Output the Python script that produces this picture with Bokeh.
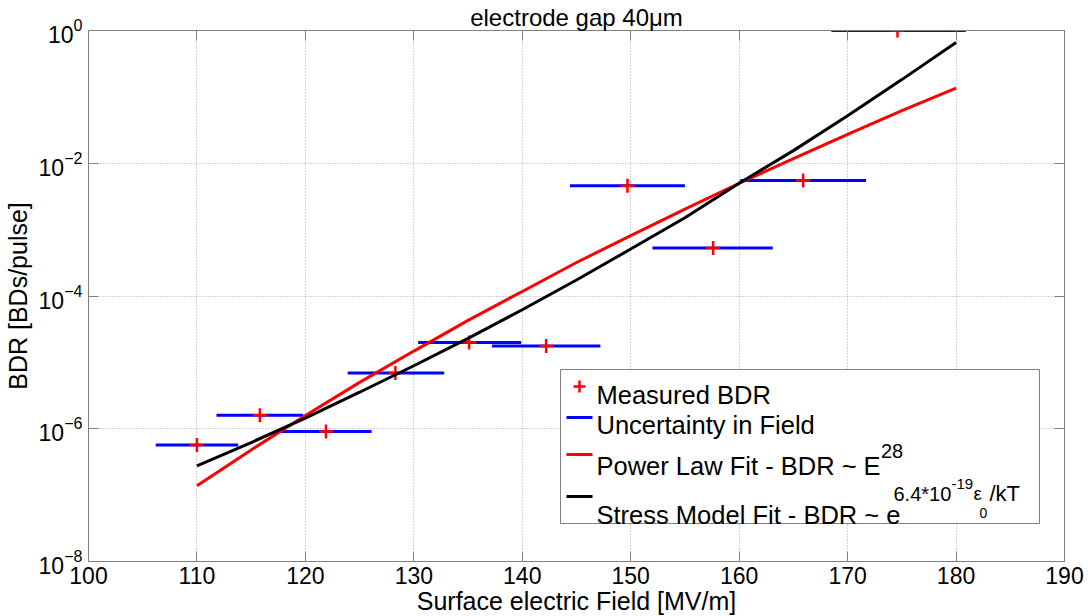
from bokeh.plotting import figure
from bokeh.models import Range1d, FixedTicker, LinearAxis, LogAxis, Label, CustomJSTickFormatter
from bokeh.embed import file_html
from bokeh.resources import INLINE

# ---------------- data ----------------
field = [110.0, 115.8, 121.9, 128.3, 135.1, 142.2, 149.7, 157.6, 165.9, 174.6]
bdr = [5.7e-7, 1.6e-6, 9.1e-7, 6.9e-6, 2.0e-5, 1.76e-5, 4.6e-3, 5.3e-4, 5.5e-3, 1.0]
field_lo = [106.2, 111.8, 117.6, 123.9, 130.4, 137.2, 144.4, 152.0, 160.1, 168.5]
field_hi = [113.8, 119.8, 126.1, 132.8, 139.9, 147.2, 155.0, 163.1, 171.7, 180.9]

fit_field = [110, 115, 120, 125, 130, 135, 140, 145, 150, 155, 160, 165, 170, 175, 180]
power_fit = [1.38e-7, 4.8e-7, 1.58e-6, 5.0e-6, 1.48e-5, 4.3e-5, 1.17e-4, 3.2e-4,
             8.1e-4, 2.04e-3, 5.0e-3, 1.17e-2, 2.72e-2, 6.2e-2, 1.35e-1]
stress_fit = [2.75e-7, 6.2e-7, 1.45e-6, 3.55e-6, 8.9e-6, 2.3e-5, 6.2e-5, 1.74e-4,
              5.1e-4, 1.51e-3, 5.0e-3, 1.55e-2, 5.2e-2, 1.82e-1, 6.6e-1]

x_ticks = [100, 110, 120, 130, 140, 150, 160, 170, 180, 190]
y_ticks = [1e-8, 1e-6, 1e-4, 1e-2, 1.0]

title_text = "electrode gap 40\u03bcm"
x_label = "Surface electric Field [MV/m]"
y_label = "BDR [BDs/pulse]"
legend_labels = ["Measured BDR", "Uncertainty in Field",
                 "Power Law Fit - BDR ~ E", "Stress Model Fit - BDR ~ e"]

# ---------------- layout ----------------
W, H = 1088, 616
LEFT, FW, TOP, FH = 88, 976, 30, 531
XMIN, XMAX = 100, 190
FONT = "Liberation Sans"
GRAY = "#808080"


def px2x(px):
    return XMIN + (px - LEFT) / FW * (XMAX - XMIN)


def px2y(py):
    return 10 ** (-(py - TOP) / FH * 8)


p = figure(x_range=Range1d(XMIN, XMAX), y_range=Range1d(1e-8, 1.0),
           y_axis_type="log", output_backend="svg", toolbar_location=None,
           frame_width=FW, frame_height=FH,
           min_border_left=LEFT, min_border_right=W - LEFT - FW,
           min_border_top=TOP, min_border_bottom=H - TOP - FH,
           background_fill_color="white", border_fill_color="white")

p.title.text = title_text
p.title.text_font = FONT
p.title.text_font_size = "24px"
p.title.text_font_style = "normal"
p.title.text_color = "black"
p.title.align = "center"
p.title.standoff = 0
p.title.offset = 0

p.outline_line_color = GRAY
p.outline_line_width = 1

# axes
p.xaxis.ticker = FixedTicker(ticks=x_ticks, minor_ticks=[])
p.yaxis.ticker = FixedTicker(ticks=y_ticks, minor_ticks=[])
for ax in (p.xaxis[0], p.yaxis[0]):
    ax.axis_line_color = GRAY
    ax.major_tick_line_color = GRAY
    ax.major_tick_in = 10
    ax.major_tick_out = 0
    ax.minor_tick_line_color = None
    ax.major_label_text_font = FONT
    ax.major_label_text_font_size = "23px"
    ax.major_label_text_color = "black"
    ax.axis_label_text_font = FONT
    ax.axis_label_text_font_size = "25px"
    ax.axis_label_text_font_style = "normal"
    ax.axis_label_text_color = "black"
p.xaxis.axis_label = x_label
p.yaxis.axis_label = y_label
p.xaxis.major_label_standoff = 5
p.xaxis.axis_label_standoff = 0
p.yaxis.major_label_standoff = 6
p.yaxis.axis_label_standoff = 4

top_ax = LinearAxis(ticker=FixedTicker(ticks=x_ticks, minor_ticks=[]),
                    formatter=CustomJSTickFormatter(code="return ''"))
right_ax = LogAxis(ticker=FixedTicker(ticks=y_ticks, minor_ticks=[]),
                   formatter=CustomJSTickFormatter(code="return ''"))
for ax in (top_ax, right_ax):
    ax.axis_line_color = GRAY
    ax.major_tick_line_color = GRAY
    ax.major_tick_in = 10
    ax.major_tick_out = 0
    ax.minor_tick_line_color = None
    ax.major_label_text_font_size = "1px"
    ax.major_label_standoff = 0
p.add_layout(top_ax, "above")
p.add_layout(right_ax, "right")

# grid
p.xgrid.ticker = FixedTicker(ticks=x_ticks)
p.ygrid.ticker = FixedTicker(ticks=y_ticks)
for g in (p.xgrid[0], p.ygrid[0]):
    g.grid_line_color = "#a8a8a8"
    g.grid_line_dash = "1 2"
    g.grid_line_width = 1

# data
p.segment(x0=field_lo, x1=field_hi, y0=bdr, y1=bdr, line_color="blue", line_width=3)
p.scatter(field, bdr, marker="cross", size=14, line_color="red", line_width=2.5)
p.line(fit_field, power_fit, line_color="red", line_width=3)
p.line(fit_field, stress_fit, line_color="black", line_width=3)

# legend box (manual, to allow superscripts)
p.quad(left=[px2x(560)], right=[px2x(1039)], top=[px2y(369)], bottom=[px2y(523)],
       fill_color="white", line_color=GRAY, line_width=1)
p.scatter([px2x(579)], [px2y(386)], marker="cross", size=12, line_color="red", line_width=2.5)
p.line([px2x(566), px2x(592)], [px2y(417)] * 2, line_color="blue", line_width=3)
p.line([px2x(566), px2x(592)], [px2y(454)] * 2, line_color="red", line_width=3)
p.line([px2x(566), px2x(592)], [px2y(496)] * 2, line_color="black", line_width=3)

baselines = [394, 424, 465, 514]
for txt, b in zip(legend_labels, baselines):
    p.add_layout(Label(x=px2x(596), y=px2y(b), text=txt, text_font=FONT,
                       text_font_size="25.5px", text_baseline="alphabetic",
                       text_align="left", text_color="black"))

sups = [("28", 880.5, 450, "20px"),
        ("6.4*10", 893, 493, "20px"),
        ("-19", 951, 483, "15px"),
        ("\u03b5", 973, 493, "19px"),
        ("0", 979, 512, "14px"),
        ("/kT", 989, 493, "22px")]
for txt, xp, yp, fs in sups:
    p.add_layout(Label(x=px2x(xp), y=px2y(yp), text=txt, text_font=FONT,
                       text_font_size=fs, text_baseline="alphabetic",
                       text_align="left", text_color="black"))

open("out.html", "w").write(file_html(p, INLINE))
